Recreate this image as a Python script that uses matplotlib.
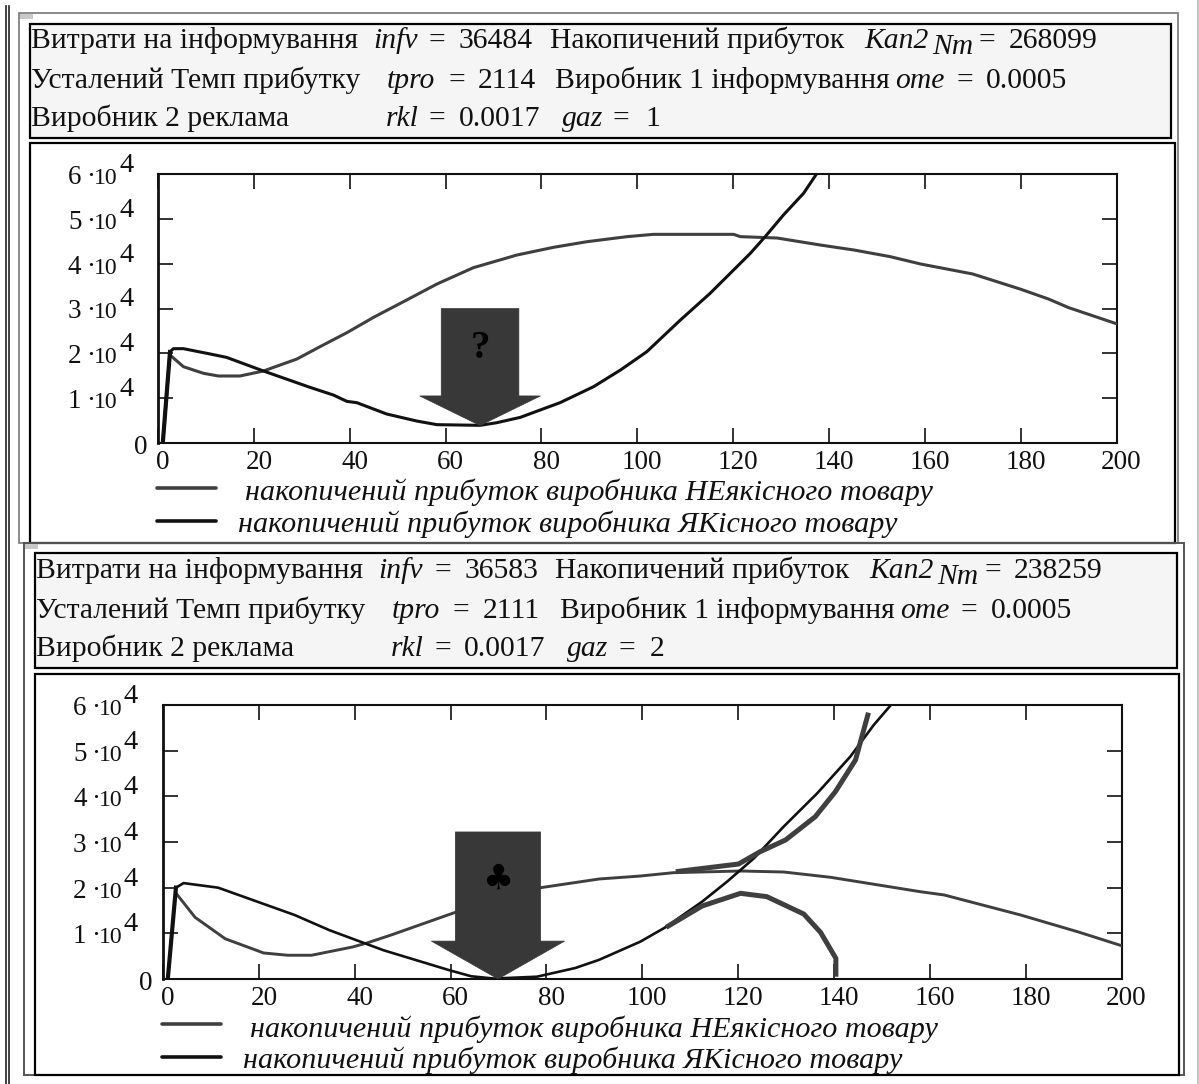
import matplotlib
matplotlib.use('Agg')
import matplotlib.pyplot as plt
from matplotlib.patches import Polygon, Rectangle

plt.rcParams['font.family'] = ['Liberation Serif', 'DejaVu Sans']

W, H = 1199, 1084

# chart 1
x_low_1 = [2.5, 5.3, 9.5, 12.6, 17.1, 22, 29, 33.8, 39.4, 45, 51.9, 58.2, 65.8, 74.9, 82.5, 89.5, 97.9, 103.4, 120.1, 121.5,
           129.2, 138.2, 145.2, 152.8, 159.1, 170, 180, 185.8, 190, 200]
y_low_1 = [19630, 17020, 15540, 14945, 14945, 16060, 18740, 21480, 24600, 28040, 31900, 35460, 39100, 41930, 43640, 44900,
           46030, 46540, 46540, 46030, 45720, 44160, 43050, 41560, 39930, 37700, 34300, 32120, 30200, 26600]
x_high_1 = [1, 2.5, 3.2, 5.3, 10.9, 14.3, 22, 31.7, 36.6, 39.4, 41.5, 47.7, 54, 58.2, 67.2, 70.7, 75.6, 83.9, 90.9, 96.5, 102,
            109, 115.2, 119.4, 123.6, 126.7, 130.5, 134.7, 137.5]
y_high_1 = [0, 20300, 21040, 21040, 19850, 19100, 16060, 12420, 10700, 9290, 8990, 6470, 4900, 4090, 3940, 4530, 5720, 9000,
            12570, 16280, 20370, 27430, 33380, 37840, 42310, 46030, 50850, 55690, 60150]

# chart 2
x_low_2 = [2.7, 6.7, 13, 21, 26, 31, 39.5, 42.6, 47.5, 61, 78.8, 91, 99.6, 106.5, 120.5, 129.5, 139.3, 158, 163, 179, 191, 200]
y_low_2 = [18800, 13500, 8800, 5700, 5200, 5200, 7000, 7900, 9600, 14600, 20000, 21900, 22550, 23280, 23650, 23430, 22270,
           19120, 18400, 14000, 10300, 7300]
x_high_2 = [1, 2.7, 4.3, 11.5, 27.5, 34.7, 46, 59.5, 64.3, 69, 78, 86, 91, 99.6, 104.8, 112.5, 117.7, 123.3, 129.5, 136.5,
            143.4, 148.3, 151.8]
y_high_2 = [0, 20000, 21000, 20000, 14000, 10700, 6300, 2000, 600, 100, 500, 2400, 4200, 8180, 11300, 16940, 21320, 26430,
            33360, 40660, 48680, 55620, 59900]
x_branch_down = [105, 112.5, 120.5, 126, 133.7, 137.2, 140.4, 140.4]
y_branch_down = [11320, 15990, 18760, 18030, 14230, 10220, 4530, 500]
x_branch_up = [107, 120.1, 124.6, 129.9, 136.1, 140.3, 144.5, 147.2]
y_branch_up = [23500, 25180, 27880, 30440, 35540, 41020, 47960, 58320]

x_ticks = [0, 20, 40, 60, 80, 100, 120, 140, 160, 180, 200]
y_ticks = [0, 10000, 20000, 30000, 40000, 50000, 60000]
y_mantissas = ['0', '1', '2', '3', '4', '5', '6']

legend_low = 'накопичений прибуток виробника НЕякісного товару'
legend_high = 'накопичений прибуток виробника ЯКісного товару'

header_1 = ['36484', '268099', '2114', '0.0005', '0.0017', '1']
header_2 = ['36583', '238259', '2111', '0.0005', '0.0017', '2']

GRAY = '#3f3f3f'
DARK = '#111111'
ARROW = '#383838'
FS = 21.3
TICK_FS = 19.5

fig = plt.figure(figsize=(W / 100, H / 100), dpi=100, facecolor='white')
page = fig.add_axes([0, 0, 1, 1])
page.set_xlim(0, W)
page.set_ylim(H, 0)
page.axis('off')


def frame(x0, y0, x1, y1, edge='black', lw=1.5, face='none', z=1):
    page.add_patch(Rectangle((x0, y0), x1 - x0, y1 - y0, facecolor=face, edgecolor=edge, linewidth=lw, zorder=z))


def put(x, y, s, italic=False, size=FS, **kw):
    page.text(x, y, s, fontsize=size, style='italic' if italic else 'normal', va='baseline', ha='left', color='#111111',
              zorder=6, **kw)


def draw_header(dx, dy, values):
    put(31 + dx, 48 + dy, 'Витрати на інформування')
    put(373 + dx, 48 + dy, 'infv', italic=True)
    put(429 + dx, 48 + dy, '=')
    put(459 + dx, 48 + dy, values[0])
    put(550 + dx, 48 + dy, 'Накопичений прибуток')
    put(864 + dx, 48 + dy, 'Kan2', italic=True)
    put(932 + dx, 54 + dy, 'Nm', italic=True)
    put(979 + dx, 48 + dy, '=')
    put(1009 + dx, 48 + dy, values[1])

    put(31 + dx, 88 + dy, 'Усталений Темп прибутку')
    put(387 + dx, 88 + dy, 'tpro', italic=True)
    put(448 + dx, 88 + dy, '=')
    put(478 + dx, 88 + dy, values[2])
    put(555 + dx, 88 + dy, 'Виробник 1 інформування')
    put(895 + dx, 88 + dy, 'ome', italic=True)
    put(956 + dx, 88 + dy, '=')
    put(986 + dx, 88 + dy, values[3])

    put(31 + dx, 126 + dy, 'Виробник 2 реклама')
    put(386 + dx, 126 + dy, 'rkl', italic=True)
    put(429 + dx, 126 + dy, '=')
    put(459 + dx, 126 + dy, values[4])
    put(562 + dx, 126 + dy, 'gaz', italic=True)
    put(613 + dx, 126 + dy, '=')
    put(645 + dx, 126 + dy, values[5])


def make_axes(left, right, top, bottom):
    ax = fig.add_axes([left / W, 1 - bottom / H, (right - left) / W, (bottom - top) / H])
    ax.set_xlim(0, 200)
    ax.set_ylim(0, 60000)
    ax.patch.set_alpha(0)
    ax.set_xticks(x_ticks)
    ax.set_yticks(y_ticks)
    ax.set_xticklabels([])
    ax.set_yticklabels([])
    ax.tick_params(direction='in', length=10.5, width=1.2, top=True, right=True, color='#111111')
    for side in ax.spines.values():
        side.set_linewidth(1.5)
        side.set_color('#111111')
    ax.spines['left'].set_linewidth(2)

    # tick labels go on the page so they can sit off-centre as in the source
    for tick in x_ticks:
        px = left + tick * (right - left) / 200
        page.text(px + 5, bottom + 26, str(tick), fontsize=TICK_FS, ha='center', va='baseline', color='#111111')
    for tick, mant in zip(y_ticks, y_mantissas):
        py = bottom - tick * (bottom - top) / 60000
        if tick == 0:
            page.text(left - 24, py + 11, mant, fontsize=TICK_FS, ha='left', va='baseline', color='#111111')
        else:
            page.text(left - 90, py + 10, mant, fontsize=TICK_FS, ha='left', va='baseline', color='#111111')
            page.text(left - 72, py + 10, '·', fontsize=TICK_FS, ha='left', va='baseline', color='#111111')
            page.text(left - 64, py + 10, '10', fontsize=17, ha='left', va='baseline', color='#111111')
            page.text(left - 39, py - 2, '4', fontsize=TICK_FS + 1, ha='left', va='baseline', color='#111111')
    return ax


def draw_arrow(ax, tip_x, tip_y, top_y, base_y, shaft, head, sign, sign_y, sign_size, family):
    pts = [(tip_x - shaft, top_y), (tip_x + shaft, top_y), (tip_x + shaft, base_y), (tip_x + head, base_y),
           (tip_x, tip_y), (tip_x - head, base_y), (tip_x - shaft, base_y)]
    ax.add_patch(Polygon(pts, closed=True, facecolor=ARROW, edgecolor=ARROW, linewidth=0.5, zorder=5))
    ax.text(tip_x, sign_y, sign, fontsize=sign_size, fontweight='bold', family=family, ha='center', va='center', color='black',
            zorder=6)


def draw_legend(x0, x1, y_a, y_b, tx_a, base_a, tx_b, base_b):
    page.plot([x0, x1], [y_a, y_a], color=GRAY, linewidth=2.6, solid_capstyle='round')
    page.plot([x0, x1], [y_b, y_b], color=DARK, linewidth=2.6, solid_capstyle='round')
    put(tx_a, base_a, legend_low, italic=True, size=21.7)
    put(tx_b, base_b, legend_high, italic=True, size=21.7)


# page furniture
page.plot([5.5, 5.5], [6, H], color='#222222', linewidth=1.2)
page.plot([8.5, 8.5], [6, H], color='#222222', linewidth=1.2)
page.plot([1198, 1198], [0, H], color='#bbbbbb', linewidth=1.2)

frame(19, 13, 1178, 543, edge='#777777', lw=1.2)
page.add_patch(Rectangle((19.5, 14), 13, 5, facecolor='#c8c8c8', edgecolor='none', zorder=2))
frame(30, 24, 1171, 138, face='#f5f5f5', lw=1.6)
frame(30, 143, 1175, 543, lw=1.6)

frame(24, 543, 1184, 1075, edge='#555555', lw=1.4)
page.add_patch(Rectangle((24.5, 544), 13, 5, facecolor='#c8c8c8', edgecolor='none', zorder=2))
frame(35, 553, 1177, 668, face='#f5f5f5', lw=1.6)
frame(35, 674, 1179, 1075, lw=1.6)

draw_header(0, 0, header_1)
draw_header(5, 530, header_2)

ax1 = make_axes(158, 1116.5, 174, 443)
ax1.plot(x_low_1, y_low_1, color=GRAY, linewidth=2.2, zorder=3)
ax1.plot(x_high_1, y_high_1, color=DARK, linewidth=2.2, zorder=4)
ax1.plot(x_high_1[:2], y_high_1[:2], color=DARK, linewidth=3, zorder=4)
draw_arrow(ax1, 67.2, 3900, 30000, 10500, 8.1, 12.6, '?', 21000, 28, 'Liberation Serif')
draw_legend(157, 216, 488, 520.5, 245, 500, 238, 532)

ax2 = make_axes(163, 1121.5, 705, 979)
ax2.plot(x_low_2, y_low_2, color=GRAY, linewidth=2.1, zorder=3)
ax2.plot(x_high_2, y_high_2, color=DARK, linewidth=1.9, zorder=4)
ax2.plot(x_high_2[:2], y_high_2[:2], color=DARK, linewidth=3, zorder=4)
ax2.plot(x_branch_down, y_branch_down, color=GRAY, linewidth=3.6, solid_joinstyle='miter', solid_capstyle='butt', zorder=4)
ax2.plot(x_branch_up, y_branch_up, color=GRAY, linewidth=3.6, solid_joinstyle='miter', solid_capstyle='butt', zorder=4)
draw_arrow(ax2, 69.9, 0, 32200, 8300, 8.9, 13.9, '♣', 21900, 25, 'DejaVu Sans')
draw_legend(162, 221, 1024, 1057, 249.5, 1037, 243, 1068)

fig.savefig('out.png', dpi=100, facecolor='white')
